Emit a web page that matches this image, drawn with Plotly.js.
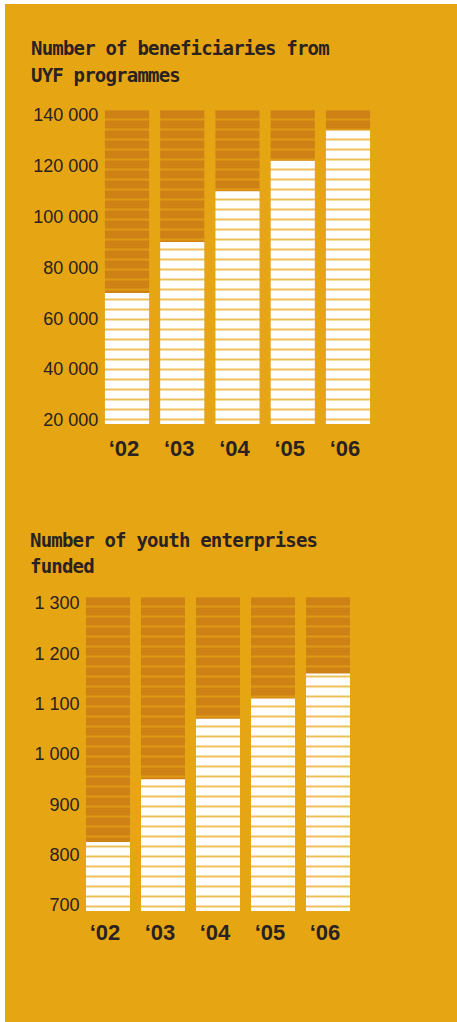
<!DOCTYPE html>
<html><head><meta charset="utf-8">
<script src="https://cdn.plot.ly/plotly-3.0.1.min.js"></script>
<style>
html,body{margin:0;padding:0;background:#fff;width:457px;height:1022px;overflow:hidden}
#chart{position:absolute;left:5px;top:4px;width:452px;height:1018px}
#chart .annotation-text{letter-spacing:-0.8px}
</style></head><body><div id="chart"></div>
<script>
// ---- data ----
const years = ['\u201802','\u201803','\u201804','\u201805','\u201806'];
const beneficiaries = [70000, 90000, 110000, 122000, 134000];
const enterprises = [825, 950, 1070, 1110, 1160];
const yTicks1 = [20000, 40000, 60000, 80000, 100000, 120000, 140000];
const yTicks2 = [700, 800, 900, 1000, 1100, 1200, 1300];
const title1 = ['Number of beneficiaries from', 'UYF programmes'];
const title2 = ['Number of youth enterprises', 'funded'];

// ---- style ----
const BG = '#E6A513', DARK = '#CE8216', WHITE = '#FFFFFF', INK = '#2A2220';
const TRACK1 = 142000, TRACK2 = 1312;   // top of the striped columns

function pat(bg) {
  return {shape: '-', size: 10, solidity: 0.14, fgcolor: BG, bgcolor: bg, fillmode: 'replace'};
}
function track(x, top, xa, ya) {
  return {type: 'bar', x: x, y: x.map(() => top), xaxis: xa, yaxis: ya,
    marker: {color: DARK, line: {width: 0}, pattern: pat(DARK)},
    hoverinfo: 'skip', showlegend: false};
}
function vals(x, y, xa, ya) {
  return {type: 'bar', x: x, y: y, xaxis: xa, yaxis: ya,
    marker: {color: WHITE, line: {width: 0}, pattern: pat(WHITE)},
    hovertemplate: '%{x}: %{y:,d}<extra></extra>', showlegend: false};
}

const data = [
  track(years, TRACK1, 'x', 'y'),
  vals(years, beneficiaries, 'x', 'y'),
  track(years, TRACK2, 'x2', 'y2'),
  vals(years, enterprises, 'x2', 'y2')
];

const H = 1018, W = 452;
const xFont = {family: 'Liberation Sans, Arial, sans-serif', size: 22, color: INK, weight: 'bold'};
const yFont = {family: 'Liberation Sans, Arial, sans-serif', size: 18, color: INK};
const tFont = {family: 'DejaVu Sans Mono, monospace', size: 19, color: INK, weight: 'bold'};

function xax(domain, anchor, standoff) {
  return {domain: domain, anchor: anchor, type: 'category', range: [-0.5, 4.5],
    showgrid: false, zeroline: false, showline: false, ticks: '',
    tickfont: xFont, ticklabelshift: -3, ticklabelstandoff: standoff, fixedrange: true};
}
function yax(domain, anchor, range, tv) {
  return {domain: domain, anchor: anchor, range: range, tickvals: tv, tickformat: ',d',
    showgrid: false, zeroline: false, showline: false, ticks: '',
    tickfont: yFont, fixedrange: true};
}
function ann(text, x, yPx) {
  return {text: text, xref: 'paper', yref: 'paper', x: x, y: (H - yPx) / H,
    xanchor: 'left', yanchor: 'middle', align: 'left', showarrow: false, font: tFont};
}

const layout = {
  width: W, height: H,
  margin: {l: 0, r: 0, t: 0, b: 0},
  paper_bgcolor: BG, plot_bgcolor: 'rgba(0,0,0,0)',
  separators: '. ',
  barmode: 'overlay', bargap: 0.2,
  showlegend: false,
  xaxis: xax([94.4 / W, 370.6 / W], 'y', 9),
  yaxis: yax([(H - 420) / H, (H - 100.5) / H], 'x', [18420, 144120], yTicks1),
  xaxis2: xax([75.5 / W, 350.5 / W], 'y2', 6),
  yaxis2: yax([(H - 907) / H, (H - 587.5) / H], 'x2', [688, 1322.8], yTicks2),
  annotations: [
    ann(title1[0], 23.5 / W, 44.5),
    ann(title1[1], 23.5 / W, 71.5),
    ann(title2[0], 23 / W, 535.5),
    ann(title2[1], 23 / W, 561.5)
  ]
};

Plotly.newPlot('chart', data, layout, {displayModeBar: false, staticPlot: true});
</script></body></html>
